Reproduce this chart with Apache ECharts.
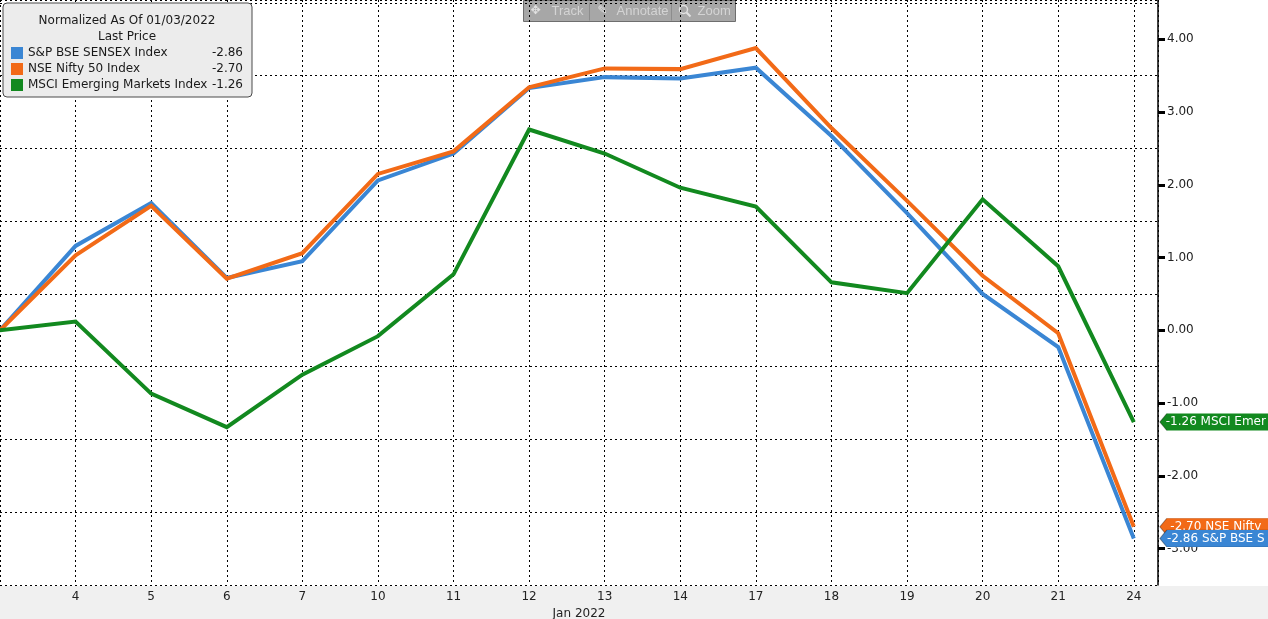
<!DOCTYPE html>
<html><head><meta charset="utf-8">
<script src="https://cdn.jsdelivr.net/npm/echarts@6/dist/echarts.min.js"></script>
<style>html,body{margin:0;padding:0;background:#fff}#c{width:1268px;height:619px}</style>
</head><body><div id="c"></div>
<script>
const days = ['3','4','5','6','7','10','11','12','13','14','17','18','19','20','21','24'];
const sensex = [0, 1.16, 1.75, 0.72, 0.95, 2.06, 2.43, 3.33, 3.48, 3.46, 3.61, 2.67, 1.61, 0.50, -0.23, -2.86];
const nifty  = [0, 1.03, 1.71, 0.71, 1.06, 2.15, 2.46, 3.34, 3.60, 3.59, 3.88, 2.78, 1.78, 0.75, -0.04, -2.70];
const msci   = [0, 0.12, -0.87, -1.33, -0.61, -0.08, 0.77, 2.76, 2.43, 1.96, 1.70, 0.66, 0.51, 1.80, 0.88, -1.26];
const seriesNames = ['S&P BSE SENSEX Index', 'NSE Nifty 50 Index', 'MSCI Emerging Markets Index'];
const tagNames = ['S&P BSE S', 'NSE Nifty', 'MSCI Emer'];
const colors = ['#3a86d4', '#f26a17', '#12891f'];
const legendTitle = 'Normalized As Of 01/03/2022\nLast Price';
const xAxisName = 'Jan 2022';

const FONT = 'DejaVu Sans';
const allData = [sensex, nifty, msci];
const lastVal = {};
seriesNames.forEach((n, i) => { lastVal[n] = allData[i][allData[i].length - 1]; });

const chart = echarts.init(document.getElementById('c'), null, {renderer: 'canvas'});

const series = allData.map((arr, i) => ({
  name: seriesNames[i],
  type: 'line',
  yAxisIndex: 0,
  data: arr.map((v, k) => [k, v]),
  showSymbol: false,
  symbol: 'none',
  lineStyle: {width: 4, color: colors[i], join: 'miter'},
  itemStyle: {color: colors[i]},
  z: 3 + i,
  markPoint: {
    z: i === 0 ? 12 : (i === 1 ? 11 : 10),
    silent: true,
    symbol: 'path://M0,8.5L7,0L112,0L112,17L7,17Z',
    symbolSize: [112, 17],
    symbolOffset: [82, 0],
    symbolKeepAspect: false,
    itemStyle: {color: colors[i], borderColor: 'rgba(0,0,0,0.35)', borderWidth: 0.5},
    label: {
      show: true, position: 'inside', color: '#fff', fontFamily: FONT, fontSize: 12,
      formatter: () => arr[arr.length - 1].toFixed(2) + ' ' + tagNames[i]
    },
    data: [{coord: [arr.length - 1, arr[arr.length - 1]]}]
  }
}));

const option = {
  animation: false,
  backgroundColor: '#fff',
  color: colors,
  grid: {left: 0, right: 110, top: 0, bottom: 34, containLabel: false, outerBoundsMode: 'none'},
  title: {
    text: legendTitle,
    left: 122, top: 8, textAlign: 'center',
    textStyle: {fontFamily: FONT, fontSize: 12, fontWeight: 'normal', color: '#1a1a1a', lineHeight: 16},
    z: 20
  },
  legend: {
    orient: 'vertical', left: 3, top: 3,
    padding: [42, 9, 4, 8],
    itemGap: 0, itemWidth: 12, itemHeight: 12,
    icon: 'rect',
    backgroundColor: '#ececec', borderColor: '#4a4a4a', borderWidth: 1, borderRadius: 4,
    selectedMode: false,
    data: seriesNames,
    textStyle: {
      fontFamily: FONT, fontSize: 12, color: '#1a1a1a', lineHeight: 16,
      rich: {
        n: {fontFamily: FONT, fontSize: 12, color: '#1a1a1a', width: 180, lineHeight: 16},
        v: {fontFamily: FONT, fontSize: 12, color: '#1a1a1a', width: 35, align: 'right', lineHeight: 16}
      }
    },
    formatter: name => '{n|' + name + '}{v|' + lastVal[name].toFixed(2) + '}',
    z: 15
  },
  xAxis: {
    type: 'value', min: 0, max: 15.32, interval: 1,
    axisLine: {show: false}, axisTick: {show: false},
    splitLine: {show: true, lineStyle: {color: '#000', width: 1, type: [2, 3]}},
    axisLabel: {
      fontFamily: FONT, fontSize: 12, color: '#222', margin: 6,
      showMinLabel: false, showMaxLabel: false,
      formatter: v => (Number.isInteger(v) && v > 0 && v < days.length) ? days[v] : ''
    },
    name: xAxisName, nameLocation: 'middle', nameGap: 17,
    nameTextStyle: {fontFamily: FONT, fontSize: 12, color: '#222'}
  },
  yAxis: [{
    type: 'value', position: 'right', min: -3.5, max: 4.54,
    splitNumber: 8, minInterval: 1, maxInterval: 1,
    axisLine: {show: true, onZero: false, lineStyle: {color: '#000', width: 1.5}},
    axisTick: {show: true, inside: false, length: 7, lineStyle: {color: '#000', width: 3}},
    axisLabel: {
      fontFamily: FONT, fontSize: 12, color: '#222', margin: 9,
      showMinLabel: false, showMaxLabel: false,
      formatter: v => Number.isInteger(v) ? v.toFixed(2) : ''
    },
    splitLine: {show: false}
  }, {
    type: 'value', position: 'left', min: -3.5, max: 4.54, interval: 1,
    axisLine: {show: false}, axisTick: {show: false}, axisLabel: {show: false},
    splitLine: {show: true, lineStyle: {color: '#000', width: 1, type: [2, 3]}}
  }],
  graphic: [
    {type: 'rect', left: 0, top: 586, z: -10, silent: true,
     shape: {width: 1268, height: 33}, style: {fill: '#f0f0f0'}},
    {type: 'group', left: 523, top: 0, z: 50, silent: true, children: [
      {type: 'rect', shape: {x: 0, y: 0, width: 212, height: 21}, style: {fill: '#a7a7a7', stroke: '#6e6e6e', lineWidth: 1}},
      {type: 'line', shape: {x1: 66, y1: 2, x2: 66, y2: 20}, style: {stroke: '#8c8c8c', lineWidth: 1}},
      {type: 'line', shape: {x1: 148, y1: 2, x2: 148, y2: 20}, style: {stroke: '#8c8c8c', lineWidth: 1}},
      {type: 'text', x: 7, y: 4, style: {text: '\u2725', font: '12px "DejaVu Sans"', fill: '#e2e2e2'}},
      {type: 'text', x: 28, y: 4, style: {text: 'Track', font: '13px "Liberation Sans"', fill: '#d4d4d4'}},
      {type: 'text', x: 74, y: 4, style: {text: '\u270E', font: '12px "DejaVu Sans"', fill: '#e2e2e2'}},
      {type: 'text', x: 93, y: 4, style: {text: 'Annotate', font: '13px "Liberation Sans"', fill: '#d4d4d4'}},
      {type: 'circle', shape: {cx: 160, cy: 9, r: 4}, style: {fill: 'none', stroke: '#e2e2e2', lineWidth: 1.5}},
      {type: 'line', shape: {x1: 163, y1: 12, x2: 167, y2: 16}, style: {stroke: '#e2e2e2', lineWidth: 2}},
      {type: 'text', x: 174, y: 4, style: {text: 'Zoom', font: '13px "Liberation Sans"', fill: '#d4d4d4'}}
    ]}
  ],
  series: series
};
chart.setOption(option);
</script>
</body></html>
